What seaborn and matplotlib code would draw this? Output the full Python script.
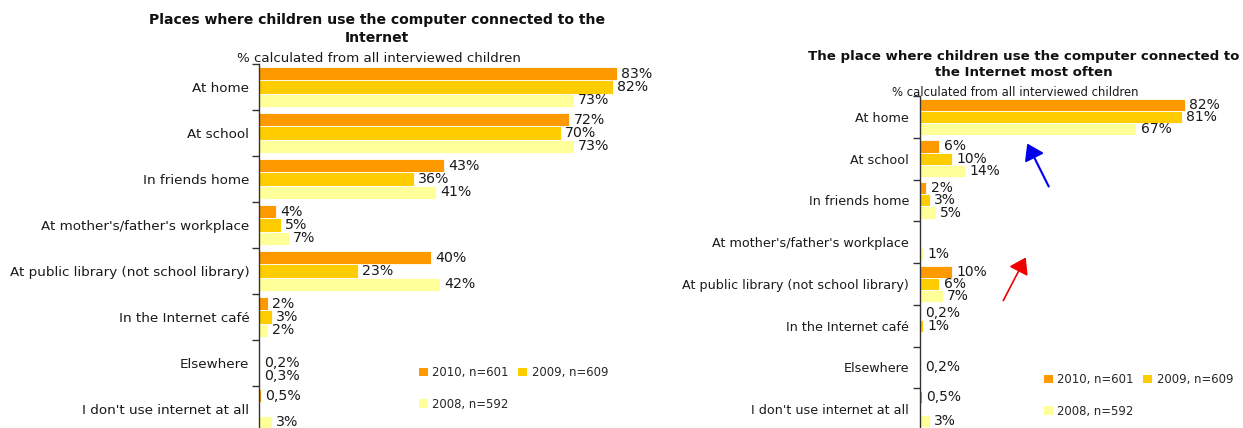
import numpy as np
import pandas as pd
import matplotlib
matplotlib.use("Agg")
import matplotlib.pyplot as plt
from matplotlib.patches import Patch, FancyArrowPatch
import seaborn as sns

# Survey data: share of interviewed children (%)
places = [
    "At home",
    "At school",
    "In friends home",
    "At mother's/father's workplace",
    "At public library (not school library)",
    "In the Internet café",
    "Elsewhere",
    "I don't use internet at all",
]
years = ["2010, n=601", "2009, n=609", "2008, n=592"]
year_colors = ["#FF9900", "#FFCC00", "#FFFF99"]

# Places where children use an Internet-connected computer
all_2010 = [83, 72, 43, 4, 40, 2, np.nan, 0.5]
all_2009 = [82, 70, 36, 5, 23, 3, 0.2, np.nan]
all_2008 = [73, 73, 41, 7, 42, 2, 0.3, 3]

# The place where they use it most often
most_2010 = [82, 6, 2, np.nan, 10, 0.2, np.nan, 0.5]
most_2009 = [81, 10, 3, np.nan, 6, 1, 0.2, np.nan]
most_2008 = [67, 14, 5, 1, 7, np.nan, np.nan, 3]

title_left = "Places where children use the computer connected to the\nInternet"
title_right = "The place where children use the computer connected to\nthe Internet most often"
subtitle = "% calculated from all interviewed children"


def long_frame(series):
    rows = []
    for year, vals in zip(years, series):
        for place, v in zip(places, vals):
            rows.append({"place": place, "year": year, "value": v})
    return pd.DataFrame(rows).dropna()


def pct(v):
    return f"{v:g}%".replace(".", ",")


sns.set_theme(style="white")
plt.rcParams["font.family"] = ["DejaVu Sans"]

W, H = 1243, 428
fig = plt.figure(figsize=(W / 100, H / 100), dpi=100)
fig.patch.set_facecolor("white")


def px_axes(left, top, right, bottom):
    return fig.add_axes([left / W, 1 - bottom / H, (right - left) / W, (bottom - top) / H])


def draw_panel(ax, series, xmax, tick_fs, label_fs, pad):
    df = long_frame(series)
    sns.barplot(
        data=df, y="place", x="value", hue="year",
        order=places, hue_order=years, palette=year_colors,
        orient="h", width=0.88, saturation=1, legend=False,
        edgecolor="white", linewidth=0.6, errorbar=None, ax=ax,
    )
    for cont in ax.containers:
        ax.bar_label(cont, fmt=pct, padding=3, fontsize=label_fs, color="#1a1a1a")
    ax.set_xlim(0, xmax)
    ax.set_ylim(len(places) - 0.5, -0.5)
    ax.set_xlabel("")
    ax.set_ylabel("")
    ax.set_xticks([])
    ax.set_yticks(range(len(places)))
    ax.set_yticklabels(places, fontsize=tick_fs, color="#1a1a1a")
    ax.set_yticks(np.arange(-0.5, len(places), 1.0), minor=True)
    ax.tick_params(axis="y", which="major", length=0, pad=pad)
    ax.tick_params(axis="y", which="minor", length=5, width=1, color="#333333", direction="out", left=True)
    for s in ("top", "right", "bottom"):
        ax.spines[s].set_visible(False)
    ax.spines["left"].set_color("#333333")
    ax.spines["left"].set_linewidth(1)
    ax.set_facecolor("white")


ax1 = px_axes(259, 64, 647, 432)
draw_panel(ax1, [all_2010, all_2009, all_2008], 90, 9.7, 10.2, 7)

ax2 = px_axes(920, 96, 1243, 430)
draw_panel(ax2, [most_2010, most_2009, most_2008], 100, 9.2, 10.0, 8)

# Titles
fig.text(377 / W, 1 - 29 / H, title_left, ha="center", va="center",
         fontsize=10.1, fontweight="bold", linespacing=1.4, color="#111111")
fig.text(379 / W, 1 - 59 / H, subtitle, ha="center", va="center", fontsize=9.6, color="#1a1a1a")
fig.text(1024 / W, 1 - 64.5 / H, title_right, ha="center", va="center",
         fontsize=9.6, fontweight="bold", linespacing=1.35, color="#111111")
fig.text(1015 / W, 1 - 92 / H, subtitle, ha="center", va="center", fontsize=8.4, color="#1a1a1a")

# Legends
handles = [Patch(facecolor=c, edgecolor="none") for c in year_colors]
order = [0, 2, 1]
for (lx, ly) in [(419, 366), (1044, 373)]:
    fig.legend(
        [handles[i] for i in order], [years[i] for i in order],
        loc="upper left", bbox_to_anchor=(lx / W, 1 - ly / H),
        ncol=2, frameon=False, fontsize=8.4,
        handlelength=0.75, handleheight=0.75, handletextpad=0.4,
        columnspacing=0.8, labelspacing=1.6, borderaxespad=0, borderpad=0,
    )

# Pointer arrows
fig.add_artist(FancyArrowPatch(
    (1050 / W, 1 - 189 / H), (1026 / W, 1 - 141 / H), transform=fig.transFigure,
    arrowstyle="-|>,head_length=6,head_width=4", color="#0000EE", linewidth=1.5, mutation_scale=1.6))
fig.add_artist(FancyArrowPatch(
    (1002 / W, 1 - 303 / H), (1027 / W, 1 - 255 / H), transform=fig.transFigure,
    arrowstyle="-|>,head_length=6,head_width=4", color="#EE0000", linewidth=1.2, mutation_scale=1.6))

fig.savefig("out.png", dpi=100, facecolor="white")
